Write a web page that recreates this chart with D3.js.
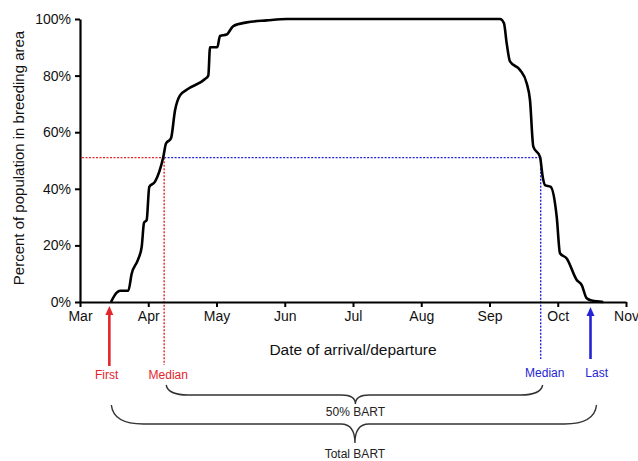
<!DOCTYPE html>
<html>
<head>
<meta charset="utf-8">
<script src="https://cdn.jsdelivr.net/npm/d3@7"></script>
<style>
  body { margin: 0; background: #fff; }
  svg text { font-family: "Liberation Sans", Arial, Helvetica, sans-serif; }
</style>
</head>
<body>
<svg id="chart"></svg>
<script>
const width = 638;
const height = 461;

// month index: 0 = 1 Mar, 1 = 1 Apr, ... 8 = 1 Nov
const monthLabels = ["Mar", "Apr", "May", "Jun", "Jul", "Aug", "Sep", "Oct", "Nov"];
const pctTicks = [0, 20, 40, 60, 80, 100];

// cumulative presence curve
const curveMonth = [0.454, 0.538, 0.586, 0.708, 0.757, 0.85, 0.904, 0.938, 0.977, 1.015,
  1.099, 1.221, 1.26, 1.333, 1.392, 1.465, 1.563, 1.832, 1.88, 1.905, 2.012, 2.051,
  2.149, 2.246, 2.443, 2.736, 3.029, 6.154, 6.212, 6.252, 6.3, 6.447, 6.545, 6.593,
  6.642, 6.74, 6.779, 6.813, 6.897, 6.985, 7.033, 7.131, 7.278, 7.351, 7.424, 7.498, 7.667];
const curvePct = [0, 3.3, 4, 4, 10, 15, 19.5, 28, 29, 40.7,
  42.5, 51.3, 56, 57.8, 67.7, 73, 75, 78.8, 80, 90, 90, 94,
  94.5, 97.5, 98.8, 99.5, 100, 100, 98.5, 91.4, 85, 82, 77.3, 71.4,
  54.9, 51.3, 44.3, 41.3, 40.7, 30.1, 17.2, 15.4, 7.8, 6, 1.3, 0.5, 0];

// reference dates
const firstMonth = 0.43;
const arrivalMedian = 1.233;
const departureMedian = 6.75;
const lastMonth = 7.48;
const medianPct = 51;

const red = "#e3262b";
const blue = "#2424d6";

const svg = d3.select("#chart").attr("width", width).attr("height", height);

const x = d3.scaleLinear().domain([0, 8]).range([80, 626]);
const y = d3.scaleLinear().domain([0, 100]).range([302, 19]);

// median guide lines
svg.append("line")
  .attr("x1", x(0) + 2).attr("x2", x(arrivalMedian))
  .attr("y1", y(medianPct)).attr("y2", y(medianPct))
  .attr("stroke", red).attr("stroke-width", 1.4).attr("stroke-dasharray", "2,1.5");
svg.append("line")
  .attr("x1", x(arrivalMedian)).attr("x2", x(arrivalMedian))
  .attr("y1", y(medianPct)).attr("y2", 365)
  .attr("stroke", red).attr("stroke-width", 1.4).attr("stroke-dasharray", "2,1.5");
svg.append("line")
  .attr("x1", x(arrivalMedian)).attr("x2", x(departureMedian))
  .attr("y1", y(medianPct)).attr("y2", y(medianPct))
  .attr("stroke", blue).attr("stroke-width", 1.4).attr("stroke-dasharray", "2,1.5");
svg.append("line")
  .attr("x1", x(departureMedian)).attr("x2", x(departureMedian))
  .attr("y1", y(medianPct)).attr("y2", 359)
  .attr("stroke", blue).attr("stroke-width", 1.4).attr("stroke-dasharray", "2,1.5");

// axes
const xAxis = svg.append("g")
  .attr("transform", `translate(0,${y(0)})`)
  .call(d3.axisBottom(x).tickValues(d3.range(9)).tickSize(5).tickSizeOuter(0)
    .tickFormat((d) => monthLabels[d]));
const yAxis = svg.append("g")
  .attr("transform", `translate(${x(0)},0)`)
  .call(d3.axisLeft(y).tickValues(pctTicks).tickSize(5).tickSizeOuter(0)
    .tickFormat((d) => d + "%"));

[xAxis, yAxis].forEach((a) => {
  a.select(".domain").attr("stroke", "#000").attr("stroke-width", 2.2);
  a.selectAll(".tick line").attr("stroke", "#000").attr("stroke-width", 2);
  a.selectAll(".tick text").attr("font-size", 14).attr("fill", "#111")
    .attr("font-family", "Liberation Sans, Arial, sans-serif");
});
xAxis.selectAll(".tick text").attr("dy", "0.71em").attr("y", 9);
yAxis.selectAll(".tick text").attr("x", -9);

// curve
const line = d3.line()
  .x((d, i) => x(curveMonth[i]))
  .y((d) => y(d))
  .curve(d3.curveMonotoneX);
svg.append("path")
  .datum(curvePct)
  .attr("fill", "none")
  .attr("stroke", "#000")
  .attr("stroke-width", 2.6)
  .attr("stroke-linejoin", "round")
  .attr("d", line);

// axis titles
svg.append("text")
  .attr("x", 353).attr("y", 351)
  .attr("text-anchor", "middle").attr("dominant-baseline", "middle")
  .attr("font-size", 15.5).attr("fill", "#111")
  .text("Date of arrival/departure");
svg.append("text")
  .attr("transform", "translate(20,158) rotate(-90)")
  .attr("text-anchor", "middle").attr("dominant-baseline", "middle")
  .attr("font-size", 15).attr("fill", "#111")
  .text("Percent of population in breeding area");

// arrows
function arrow(m, yBottom, yTop, color) {
  svg.append("line")
    .attr("x1", x(m)).attr("x2", x(m))
    .attr("y1", yBottom).attr("y2", yTop + 6)
    .attr("stroke", color).attr("stroke-width", 2.6);
  svg.append("path")
    .attr("d", `M${x(m) - 4},${yTop + 9}L${x(m)},${yTop}L${x(m) + 4},${yTop + 9}Z`)
    .attr("fill", color);
}
arrow(firstMonth, 366, 306, red);
arrow(lastMonth, 359, 307, blue);

// labels
const labels = [
  { text: "First", m: firstMonth - 0.04, yPos: 376, color: red },
  { text: "Median", m: arrivalMedian + 0.06, yPos: 376, color: red },
  { text: "Median", m: departureMedian + 0.06, yPos: 374, color: blue },
  { text: "Last", m: lastMonth + 0.09, yPos: 374, color: blue },
];
svg.selectAll(".lbl")
  .data(labels)
  .enter()
  .append("text")
  .attr("class", "lbl")
  .attr("x", (d) => x(d.m))
  .attr("y", (d) => d.yPos)
  .attr("text-anchor", "middle").attr("dominant-baseline", "middle")
  .attr("font-size", 12)
  .attr("fill", (d) => d.color)
  .text((d) => d.text);

// braces
function brace(m0, m1, yEnd, yMid, yTip, r, dx1) {
  const x0 = x(m0) + 2, x1 = x(m1) + dx1, xc = (x0 + x1) / 2 + 1;
  const p = d3.path();
  p.moveTo(x0, yEnd);
  p.quadraticCurveTo(x0 + 2, yMid, x0 + r, yMid);
  p.lineTo(xc - 14, yMid);
  p.quadraticCurveTo(xc, yMid, xc, yTip);
  p.quadraticCurveTo(xc, yMid, xc + 14, yMid);
  p.lineTo(x1 - r, yMid);
  p.quadraticCurveTo(x1 - 2, yMid, x1, yEnd);
  svg.append("path")
    .attr("d", p.toString())
    .attr("fill", "none")
    .attr("stroke", "#333")
    .attr("stroke-width", 1.4);
  return xc;
}
const c1 = brace(arrivalMedian, departureMedian, 385, 395, 404, 22, 2);
const c2 = brace(firstMonth, lastMonth, 405, 424, 443, 32, 6);
svg.append("text")
  .attr("x", c1).attr("y", 413)
  .attr("text-anchor", "middle").attr("dominant-baseline", "middle")
  .attr("font-size", 12).attr("fill", "#222")
  .text("50% BART");
svg.append("text")
  .attr("x", c2).attr("y", 455)
  .attr("text-anchor", "middle").attr("dominant-baseline", "middle")
  .attr("font-size", 12).attr("fill", "#222")
  .text("Total BART");
</script>
</body>
</html>
